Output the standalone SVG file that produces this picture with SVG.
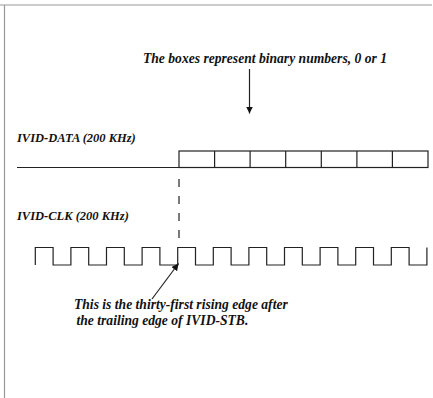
<svg xmlns="http://www.w3.org/2000/svg" width="433" height="398" viewBox="0 0 433 398">
<style>
.t{font-family:"Liberation Serif","Times New Roman",serif;font-weight:bold;font-style:italic;fill:#111}
.ln{fill:none;stroke:#222;stroke-width:1.2}
.frame{fill:none;stroke:#999;stroke-width:1.2}
</style>
<defs>
<marker id="ah" viewBox="0 0 10 10" refX="10" refY="5" markerWidth="7" markerHeight="7" markerUnits="userSpaceOnUse" orient="auto">
<path d="M0,0 L10,5 L0,10 z" fill="#111"/>
</marker>
</defs>
<rect width="433" height="398" fill="#fff"/>
<g id="frame">
<line class="frame" x1="0" y1="5" x2="432" y2="5"/>
<line class="frame" x1="4.5" y1="5" x2="4.5" y2="398"/>
</g>
<g id="title">
<text class="t" x="143" y="63" font-size="13.6">The boxes represent binary numbers, 0 or 1</text>
</g>
<g id="data">
<text class="t" x="17" y="142" font-size="12.5">IVID-DATA (200 KHz)</text>
<line class="ln" x1="17" y1="167.5" x2="206" y2="167.5"/>
<rect class="ln" x="179" y="151" width="249" height="16.5"/>
<path class="ln" d="M214.6,151V167.5M250.1,151V167.5M285.7,151V167.5M321.3,151V167.5M356.9,151V167.5M392.4,151V167.5"/>
</g>
<g id="clk">
<text class="t" x="17" y="219.5" font-size="12.5">IVID-CLK (200 KHz)</text>
<path class="ln" d="M35.3,265V247.5H53.1V265H70.9V247.5H88.7V265H106.5V247.5H124.3V265H142.1V247.5H159.9V265H177.7V247.5H195.5V265H213.3V247.5H231.1V265H248.9V247.5H266.7V265H284.5V247.5H302.3V265H320.1V247.5H337.9V265H355.7V247.5H373.5V265H391.3V247.5H409.1V265H426.9V247.5"/>
</g>
<g id="note">
<text class="t" x="74" y="308.5" font-size="13.6">This is the thirty-first rising edge after</text>
<text class="t" x="76.5" y="325" font-size="13.6">the trailing edge of IVID-STB.</text>
</g>
<g id="connectors">
<line class="ln" x1="249.5" y1="69" x2="249.5" y2="113.5" marker-end="url(#ah)"/>
<line class="ln" x1="179" y1="179" x2="179" y2="238" stroke-dasharray="8,9"/>
<line class="ln" x1="152" y1="299" x2="178.5" y2="263.5" marker-end="url(#ah)"/>
</g>
</svg>
